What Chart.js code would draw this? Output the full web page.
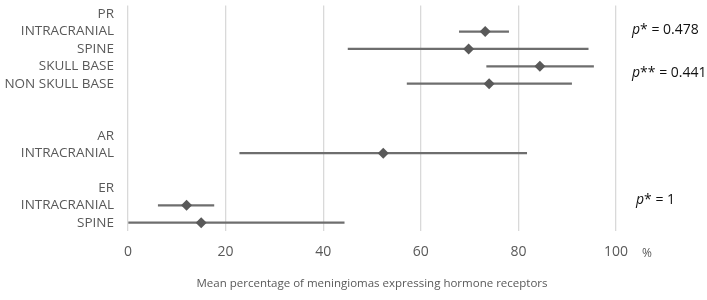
<!DOCTYPE html>
<html>
<head>
<meta charset="utf-8">
<script src="https://cdn.jsdelivr.net/npm/chart.js@4"></script>
<style>
html,body{margin:0;padding:0;background:#fff;}
#wrap{width:707px;height:300px;}
</style>
</head>
<body>
<div id="wrap"><canvas id="c" width="707" height="300"></canvas></div>
<script>
// Category rows (blank strings are spacer rows)
const categories = ['PR','INTRACRANIAL','SPINE','SKULL BASE','NON SKULL BASE','','','AR','INTRACRANIAL','','ER','INTRACRANIAL','SPINE'];
// Mean percentage (diamond)
const means = [null,73.2,69.8,84.4,74.0,null,null,null,52.3,null,null,12.0,15.0];
// Lower and upper limits of the ranges
const lows  = [null,67.9,45.1,73.5,57.2,null,null,null,22.9,null,null,6.2,0];
const highs = [null,78.0,94.3,95.4,90.9,null,null,null,81.7,null,null,17.6,44.3];
const xTicks = [0,20,40,60,80,100];
const pLabels = [
  {row:0.9, text:' = 0.478', stars:'p*'},
  {row:3.4, text:' = 0.441', stars:'p**'},
  {row:10.7, text:' = 1', stars:'p*', dx:4}
];
const axisTitle = 'Mean percentage of meningiomas expressing hormone receptors';

const ranges = lows.map((l,i)=> (l===null? null : [l, highs[i]]));

const annot = {
  id:'annot',
  afterDraw(chart){
    const ctx = chart.ctx;
    const xs = chart.scales.x, ys = chart.scales.y;
    ctx.save();
    ctx.fillStyle = '#595959';
    ctx.font = '12px "Open Sans"';
    ctx.textBaseline = 'middle';
    ctx.textAlign = 'left';
    ctx.fillText('%', xs.getPixelForValue(100) + 26, chart.chartArea.bottom + 22);
    ctx.fillStyle = '#111';
    pLabels.forEach(p=>{
      const x = xs.right + 16 + (p.dx||0);
      const y = ys.getPixelForValue(p.row);
      ctx.font = 'italic 14px "Open Sans"';
      ctx.fillText('p', x, y);
      let w = ctx.measureText('p').width;
      ctx.font = '14px "Open Sans"';
      const rest = p.stars.slice(1) + p.text;
      ctx.fillText(rest, x + w, y);
    });
    ctx.restore();
  }
};

new Chart(document.getElementById('c'), {
  type:'bar',
  data:{
    labels:categories,
    datasets:[
      {
        type:'line',
        data:means,
        indexAxis:'y',
        showLine:false,
        pointStyle:'rectRot',
        pointRadius:5.5,
        pointBackgroundColor:'#595959',
        pointBorderColor:'#595959',
        pointBorderWidth:0,
        order:0
      },
      {
        type:'bar',
        data:ranges,
        backgroundColor:'#6e6e6e',
        borderWidth:0,
        barThickness:1.6,
        order:1
      }
    ]
  },
  plugins:[annot],
  options:{
    indexAxis:'y',
    responsive:false,
    animation:false,
    layout:{padding:{top:5,right:91,left:0,bottom:9}},
    plugins:{legend:{display:false},tooltip:{enabled:false}},
    scales:{
      x:{
        type:'linear',
        min:0,max:100,
        afterBuildTicks(s){ s.ticks = xTicks.map(v=>({value:v})); },
        grid:{color:'#d9d9d9',lineWidth:1.3,drawTicks:false},
        border:{display:false},
        ticks:{color:'#595959',font:{family:'Open Sans',size:14},padding:12},
        title:{display:true,text:axisTitle,color:'#595959',font:{family:'Open Sans',size:11.5},padding:{top:5,bottom:0}},
        afterFit(s){ s.paddingLeft = 0; s.paddingRight = 0; }
      },
      y:{
        type:'category',
        offset:true,
        grid:{display:false,drawTicks:false},
        border:{display:false},
        ticks:{color:'#595959',font:{family:'Open Sans',size:13.5},padding:14,autoSkip:false},
        afterFit(s){ s.width = 128; s.paddingTop = 0; s.paddingBottom = 0; }
      }
    }
  }
});
</script>
</body>
</html>
